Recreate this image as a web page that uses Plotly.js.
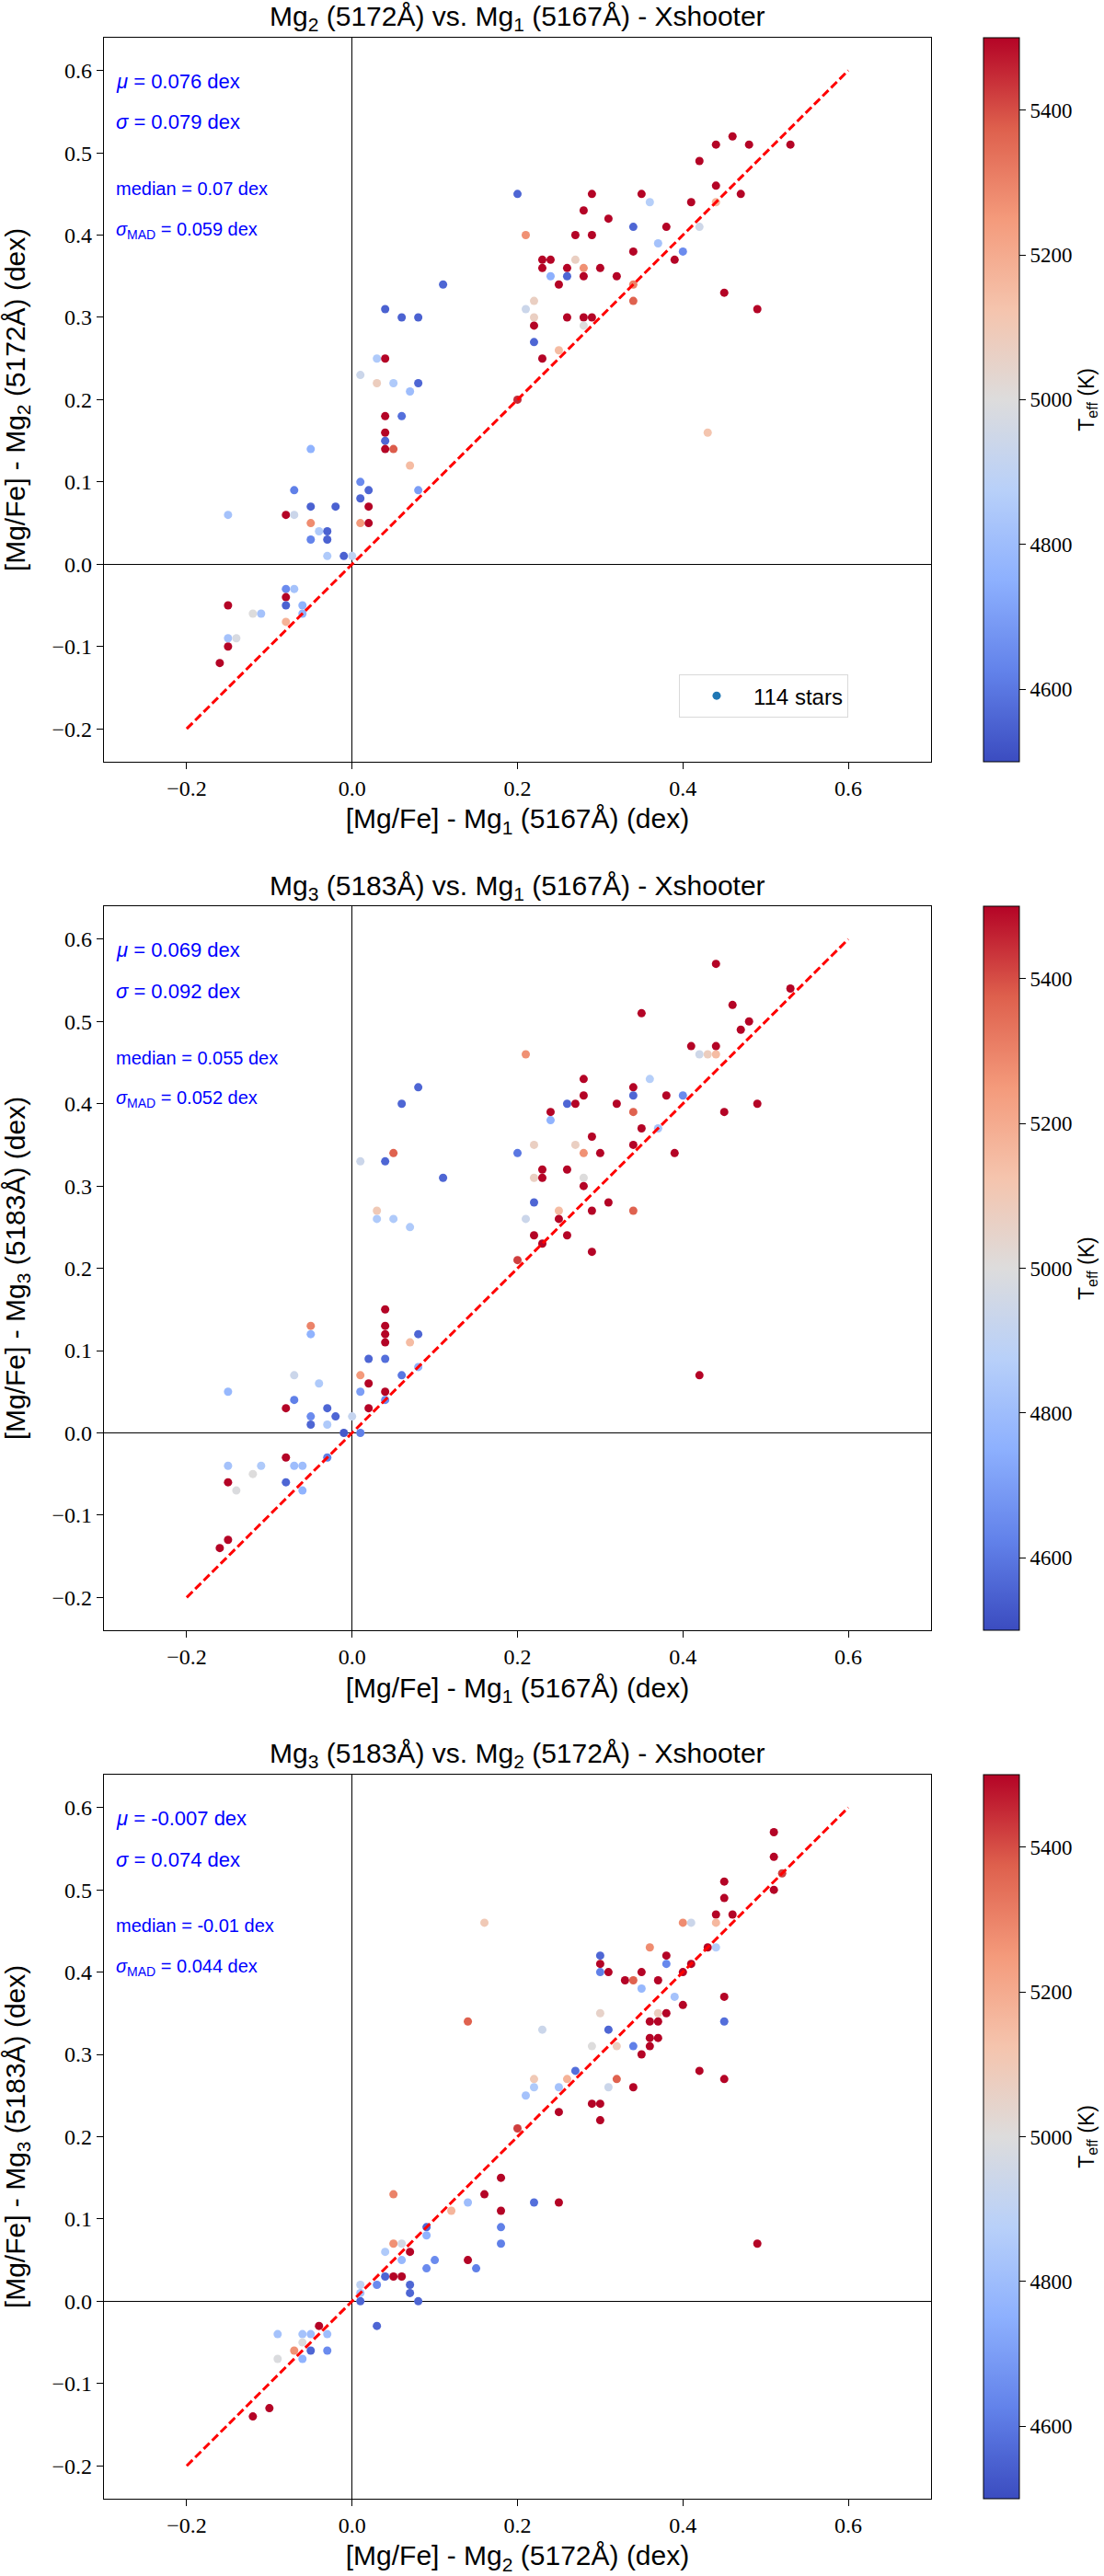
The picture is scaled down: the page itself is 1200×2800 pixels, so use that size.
<!DOCTYPE html>
<html>
<head>
<meta charset="utf-8">
<script src="https://cdn.plot.ly/plotly-3.0.1.min.js"></script>
<style>body{margin:0;background:#fff;}</style>
</head>
<body>
<div id="mg_graph" style="width:1200px;height:2800px;"></div>
<script>

// Mg2 vs Mg1
var p1_x = [-0.16,-0.15,-0.15,-0.15,-0.15,-0.14,-0.12,-0.11,-0.08,-0.07,-0.08,-0.07,-0.08,-0.08,-0.08,-0.06,-0.06,-0.07,-0.05,-0.05,
    -0.05,-0.05,-0.04,-0.03,-0.03,-0.03,-0.02,-0.01,0.00,0.01,0.01,0.02,0.02,0.02,0.01,0.01,0.03,0.04,0.03,0.05,
    0.04,0.04,0.04,0.04,0.04,0.05,0.06,0.08,0.06,0.07,0.08,0.07,0.08,0.11,0.20,0.20,0.21,0.21,0.22,0.22,
    0.22,0.22,0.23,0.24,0.23,0.24,0.23,0.25,0.25,0.26,0.26,0.26,0.27,0.27,0.28,0.28,0.28,0.28,0.28,0.29,
    0.29,0.29,0.30,0.31,0.32,0.34,0.34,0.34,0.34,0.35,0.36,0.37,0.38,0.39,0.40,0.41,0.42,0.42,0.43,0.44,
    0.44,0.44,0.45,0.46,0.47,0.48,0.49,0.53];
var p1_y = [-0.12,-0.10,-0.05,0.06,-0.09,-0.09,-0.06,-0.06,0.06,0.06,-0.03,-0.03,-0.04,-0.05,-0.07,-0.05,-0.06,0.09,0.14,0.07,
    0.05,0.03,0.04,0.04,0.03,0.01,0.07,0.01,0.01,0.10,0.08,0.09,0.07,0.05,0.05,0.23,0.25,0.25,0.22,0.22,
    0.31,0.18,0.16,0.15,0.14,0.14,0.30,0.30,0.18,0.21,0.22,0.12,0.09,0.34,0.45,0.20,0.40,0.31,0.32,0.30,
    0.29,0.27,0.37,0.37,0.36,0.35,0.25,0.34,0.26,0.36,0.35,0.30,0.37,0.40,0.43,0.36,0.35,0.30,0.29,0.45,
    0.40,0.30,0.36,0.42,0.35,0.41,0.38,0.34,0.32,0.45,0.44,0.39,0.41,0.37,0.38,0.44,0.41,0.49,0.16,0.51,
    0.46,0.44,0.33,0.52,0.45,0.51,0.31,0.51];
var p1_teff = [5500,5500,5500,4820,4820,4980,5000,4820,5500,4940,4650,4820,5500,4550,5180,4760,4760,4620,4760,4550,
    5280,4630,4850,4550,4550,4850,4550,4550,4900,4650,4560,4560,5500,5500,5250,4940,4850,5500,5080,4850,
    4550,5500,5500,4560,5500,5380,4550,4550,4580,4800,4560,5150,4700,4560,4560,5450,5270,4940,5070,5070,
    5500,4560,5500,5500,5500,4750,5500,5500,5150,5500,4560,5500,5070,5500,5500,5270,5500,5500,5000,5500,
    5500,5500,5500,5500,5500,4560,5500,5300,5370,5500,4870,4820,5500,5500,4650,5500,4950,5500,5120,5500,
    5500,5170,5500,5500,5500,5500,5500,5500];

// Mg3 vs Mg1
var p2_x = [-0.16,-0.15,-0.15,-0.15,-0.15,-0.14,-0.12,-0.11,-0.08,-0.08,-0.08,-0.07,-0.07,-0.07,-0.06,-0.06,-0.05,-0.05,-0.05,-0.05,
    -0.04,-0.03,-0.03,-0.03,-0.02,-0.01,0.00,0.01,0.01,0.01,0.01,0.02,0.02,0.02,0.03,0.03,0.05,0.04,0.04,0.04,
    0.04,0.04,0.04,0.04,0.04,0.05,0.06,0.06,0.07,0.07,0.08,0.08,0.08,0.11,0.20,0.20,0.21,0.21,0.22,0.22,
    0.22,0.22,0.23,0.23,0.23,0.24,0.24,0.25,0.25,0.26,0.26,0.26,0.27,0.27,0.28,0.28,0.28,0.28,0.28,0.29,
    0.29,0.29,0.30,0.31,0.32,0.34,0.34,0.34,0.34,0.34,0.35,0.35,0.36,0.37,0.38,0.39,0.40,0.41,0.42,0.43,
    0.44,0.42,0.44,0.44,0.45,0.46,0.47,0.48,0.49,0.53];
var p2_y = [-0.14,-0.13,-0.06,-0.04,0.05,-0.07,-0.05,-0.04,0.03,-0.03,-0.06,0.04,0.07,-0.04,-0.04,-0.07,0.13,0.12,0.02,0.01,
    0.06,0.03,0.01,-0.03,0.02,0.00,0.02,0.00,0.05,0.07,0.33,0.09,0.06,0.03,0.27,0.26,0.26,0.33,0.15,0.13,
    0.12,0.11,0.09,0.05,0.04,0.34,0.40,0.07,0.25,0.11,0.42,0.12,0.08,0.31,0.34,0.21,0.46,0.26,0.35,0.31,
    0.28,0.24,0.32,0.31,0.23,0.39,0.38,0.27,0.26,0.40,0.32,0.24,0.40,0.35,0.43,0.41,0.34,0.31,0.30,0.36,
    0.27,0.22,0.34,0.28,0.40,0.42,0.41,0.39,0.35,0.27,0.51,0.37,0.43,0.37,0.41,0.34,0.41,0.47,0.46,0.46,
    0.46,0.07,0.57,0.47,0.39,0.52,0.49,0.50,0.40,0.54];
var p2_teff = [5500,5500,5500,4820,4780,4990,5000,4850,5500,5500,4560,4620,4940,4800,4800,4760,5300,4760,4650,4560,
    4850,4560,4850,4620,4560,4530,4920,4620,4700,5250,4940,4560,5500,5500,5100,4850,4850,4560,5500,5500,
    5500,5500,4580,5500,4650,5370,4560,4600,4850,5150,4560,4560,4750,4560,4600,5420,5270,4940,5070,5070,
    4560,5500,5500,5500,5500,5500,4760,5150,5500,4560,5500,5500,5500,5070,5500,5500,5270,5000,5500,5500,
    5500,5500,5500,5500,5500,5500,4560,5370,5500,5370,5500,5500,4870,4820,5500,5500,4650,5500,4950,5080,
    5150,5500,5500,5500,5500,5500,5500,5500,5500,5500];

// Mg3 vs Mg2
var p3_x = [-0.12,-0.10,-0.09,-0.09,-0.07,-0.06,-0.06,-0.06,-0.05,-0.05,-0.04,-0.03,-0.03,0.01,0.01,0.01,0.03,0.03,0.04,0.04,
    0.05,0.06,0.05,0.05,0.06,0.06,0.07,0.07,0.07,0.08,0.09,0.09,0.09,0.10,0.12,0.14,0.14,0.14,0.15,0.16,
    0.16,0.18,0.18,0.18,0.18,0.20,0.21,0.22,0.22,0.22,0.23,0.25,0.25,0.25,0.26,0.27,0.29,0.29,0.30,0.30,
    0.30,0.30,0.30,0.30,0.31,0.31,0.31,0.32,0.32,0.33,0.34,0.34,0.34,0.35,0.35,0.35,0.36,0.36,0.36,0.36,
    0.37,0.37,0.37,0.37,0.38,0.38,0.38,0.39,0.40,0.40,0.40,0.41,0.41,0.42,0.43,0.44,0.44,0.44,0.45,0.45,
    0.45,0.45,0.45,0.46,0.49,0.51,0.51,0.51,0.52];
var p3_y = [-0.14,-0.13,-0.04,-0.07,-0.06,-0.04,-0.05,-0.07,-0.04,-0.06,-0.03,-0.04,-0.06,0.00,0.02,0.01,0.02,-0.03,0.03,0.06,
    0.03,0.03,0.07,0.13,0.07,0.05,0.06,0.02,0.01,0.00,0.09,0.08,0.04,0.05,0.11,0.12,0.05,0.34,0.04,0.46,
    0.13,0.15,0.11,0.09,0.07,0.21,0.25,0.27,0.26,0.12,0.33,0.26,0.23,0.12,0.27,0.28,0.31,0.24,0.42,0.41,
    0.40,0.35,0.24,0.22,0.40,0.33,0.26,0.31,0.27,0.39,0.39,0.31,0.26,0.40,0.38,0.30,0.43,0.34,0.32,0.31,
    0.39,0.35,0.34,0.32,0.42,0.41,0.35,0.37,0.46,0.40,0.36,0.46,0.41,0.28,0.43,0.47,0.46,0.43,0.51,0.49,
    0.37,0.34,0.27,0.47,0.07,0.57,0.54,0.50,0.52];
var p3_teff = [5500,5500,4820,4990,5270,4820,4990,4760,4800,4560,5500,4800,4650,4560,4900,4820,4650,4560,4560,4850,
    5500,5500,5270,5300,4960,4780,5500,4560,4560,4560,4560,4760,4650,4650,5170,4800,5500,5370,4620,5100,
    5500,5500,5500,4620,4620,5420,4820,5100,4850,4580,4940,4820,5500,5500,5180,4580,5000,5500,4560,5500,
    4620,5050,5500,5500,5500,4560,4940,5080,5370,5500,5370,4620,5500,5500,4780,5500,5280,5500,5500,5500,
    5500,5080,5500,5500,5500,4640,5500,4820,5280,5500,5500,4940,5500,5500,5500,5500,5160,4860,5500,5500,
    5500,4580,5500,5500,5500,5500,5500,5500,5420];

var oneToOne = [-0.2, 0.6];

var panelTitles = ['Mg<sub>2</sub> (5172Å) vs. Mg<sub>1</sub> (5167Å) - Xshooter',
                   'Mg<sub>3</sub> (5183Å) vs. Mg<sub>1</sub> (5167Å) - Xshooter',
                   'Mg<sub>3</sub> (5183Å) vs. Mg<sub>2</sub> (5172Å) - Xshooter'];
var xTitles = ['[Mg/Fe] - Mg<sub>1</sub> (5167Å) (dex)',
               '[Mg/Fe] - Mg<sub>1</sub> (5167Å) (dex)',
               '[Mg/Fe] - Mg<sub>2</sub> (5172Å) (dex)'];
var yTitles = ['[Mg/Fe] - Mg<sub>2</sub> (5172Å) (dex)',
               '[Mg/Fe] - Mg<sub>3</sub> (5183Å) (dex)',
               '[Mg/Fe] - Mg<sub>3</sub> (5183Å) (dex)'];
var statMu = ['0.076', '0.069', '-0.007'];
var statSigma = ['0.079', '0.092', '0.074'];
var statMedian = ['0.07', '0.055', '-0.01'];
var statMad = ['0.059', '0.052', '0.044'];

var xTicks = [-0.2, 0.0, 0.2, 0.4, 0.6];
var yTicks = [-0.2, -0.1, 0.0, 0.1, 0.2, 0.3, 0.4, 0.5, 0.6];
var cbTicks = [4600, 4800, 5000, 5200, 5400];
var nStars = 114;

var sansFont = 'Liberation Sans, Arial, sans-serif';
var serifFont = 'Liberation Serif, DejaVu Serif, serif';

var coolwarm = [
    [0.0, 'rgb(59,76,192)'],
    [0.125, 'rgb(98,130,234)'],
    [0.25, 'rgb(141,176,254)'],
    [0.375, 'rgb(184,208,249)'],
    [0.5, 'rgb(221,220,220)'],
    [0.625, 'rgb(245,196,173)'],
    [0.75, 'rgb(244,154,123)'],
    [0.875, 'rgb(222,96,77)'],
    [1.0, 'rgb(180,4,38)']
];

// plot boxes in paper fractions (top to bottom)
var xDomain = [0.0942, 0.8433];
var yDomains = [[0.7043, 0.9854], [0.3671, 0.6482], [0.0300, 0.3111]];

var panelX = [p1_x, p2_x, p3_x];
var panelY = [p1_y, p2_y, p3_y];
var panelT = [p1_teff, p2_teff, p3_teff];

function sfx(i) {
    return i === 0 ? '' : String(i + 1);
}

function makeStarTrace(i) {
    return {
        x: panelX[i],
        y: panelY[i],
        type: 'scatter',
        mode: 'markers',
        xaxis: 'x' + sfx(i),
        yaxis: 'y' + sfx(i),
        marker: {
            size: 9,
            color: panelT[i],
            coloraxis: 'coloraxis' + sfx(i),
            line: {width: 0}
        },
        showlegend: false,
        hoverinfo: 'skip'
    };
}

function makeOneToOne(i) {
    return {
        x: oneToOne,
        y: oneToOne,
        type: 'scatter',
        mode: 'lines',
        xaxis: 'x' + sfx(i),
        yaxis: 'y' + sfx(i),
        line: {color: '#ff0000', width: 3, dash: '9px,4px'},
        showlegend: false,
        hoverinfo: 'skip'
    };
}

function makeXAxis(i) {
    return {
        domain: xDomain,
        anchor: 'y' + sfx(i),
        range: [-0.3, 0.7],
        tickmode: 'array',
        tickvals: xTicks,
        tickformat: '.1f',
        ticks: 'outside',
        ticklen: 7,
        tickwidth: 1,
        tickcolor: '#000',
        tickfont: {family: serifFont, size: 24, color: '#000'},
        showgrid: false,
        zeroline: true,
        zerolinecolor: '#000',
        zerolinewidth: 1,
        showline: true,
        linecolor: '#000',
        linewidth: 1.2,
        mirror: true,
        title: {
            text: xTitles[i],
            font: {family: sansFont, size: 30, color: '#000'},
            standoff: 10
        }
    };
}

function makeYAxis(i) {
    return {
        domain: yDomains[i],
        anchor: 'x' + sfx(i),
        range: [-0.24, 0.64],
        tickmode: 'array',
        tickvals: yTicks,
        tickformat: '.1f',
        ticks: 'outside',
        ticklen: 7,
        tickwidth: 1,
        tickcolor: '#000',
        tickfont: {family: serifFont, size: 24, color: '#000'},
        showgrid: false,
        zeroline: true,
        zerolinecolor: '#000',
        zerolinewidth: 1,
        showline: true,
        linecolor: '#000',
        linewidth: 1.2,
        mirror: true,
        title: {
            text: yTitles[i],
            font: {family: sansFont, size: 30, color: '#000'},
            standoff: 20
        }
    };
}

function makeColorAxis(i) {
    var d = yDomains[i];
    return {
        colorscale: coolwarm,
        cmin: 4500,
        cmax: 5500,
        colorbar: {
            x: 0.8908,
            xanchor: 'left',
            xpad: 0,
            ypad: 0,
            y: (d[0] + d[1]) / 2,
            yanchor: 'middle',
            len: 787,
            lenmode: 'pixels',
            thickness: 39,
            outlinecolor: '#000',
            outlinewidth: 1,
            tickmode: 'array',
            tickvals: cbTicks,
            ticks: 'outside',
            ticklen: 7,
            tickwidth: 1,
            tickcolor: '#000',
            tickfont: {family: serifFont, size: 23, color: '#000'},
            title: {
                text: 'T<sub>eff</sub> (K)',
                side: 'right',
                font: {family: sansFont, size: 23, color: '#000'}
            }
        }
    };
}

function makeAnnotations(i) {
    var xr = 'x' + sfx(i) + ' domain';
    var yr = 'y' + sfx(i) + ' domain';
    var blue = {family: sansFont, size: 22, color: '#0000ff'};
    var blueSmall = {family: sansFont, size: 20, color: '#0000ff'};
    var lines = [
        {text: '<i>μ</i> = ' + statMu[i] + ' dex', y: 0.940, font: blue},
        {text: '<i>σ</i> = ' + statSigma[i] + ' dex', y: 0.883, font: blue},
        {text: 'median = ' + statMedian[i] + ' dex', y: 0.791, font: blueSmall},
        {text: '<i>σ</i><sub>MAD</sub> = ' + statMad[i] + ' dex', y: 0.734, font: blueSmall}
    ];
    var anns = [];
    for (var k = 0; k < lines.length; k++) {
        anns.push({
            xref: xr, yref: yr,
            x: 0.012, y: lines[k].y,
            xanchor: 'left', yanchor: 'middle',
            text: lines[k].text,
            font: lines[k].font,
            showarrow: false
        });
    }
    // panel title sits ~21px above the box
    anns.push({
        xref: xr, yref: yr,
        x: 0.5, y: 1,
        xanchor: 'center', yanchor: 'middle',
        yshift: 21,
        text: panelTitles[i],
        font: {family: sansFont, size: 30, color: '#000'},
        showarrow: false
    });
    return anns;
}

var data = [];
var layout = {
    width: 1200,
    height: 2800,
    margin: {l: 0, r: 0, t: 0, b: 0},
    paper_bgcolor: '#fff',
    plot_bgcolor: '#fff',
    showlegend: true,
    legend: {
        x: 0.7683,
        xanchor: 'right',
        y: 0.7382,
        yanchor: 'top',
        bgcolor: '#fff',
        bordercolor: '#d9d9d9',
        borderwidth: 1,
        itemwidth: 70,
        font: {family: sansFont, size: 24, color: '#000'}
    },
    annotations: []
};

for (var i = 0; i < 3; i++) {
    data.push(makeStarTrace(i));
    data.push(makeOneToOne(i));
    layout['xaxis' + sfx(i)] = makeXAxis(i);
    layout['yaxis' + sfx(i)] = makeYAxis(i);
    layout['coloraxis' + sfx(i)] = makeColorAxis(i);
    layout.annotations = layout.annotations.concat(makeAnnotations(i));
}

// legend-only entry, like the matplotlib label on the scatter
data.push({
    x: [null],
    y: [null],
    type: 'scatter',
    mode: 'markers',
    xaxis: 'x',
    yaxis: 'y',
    name: nStars + ' stars',
    marker: {color: '#1f77b4', size: 9},
    hoverinfo: 'skip'
});

Plotly.newPlot('mg_graph', data, layout, {staticPlot: true});

</script>
</body>
</html>
